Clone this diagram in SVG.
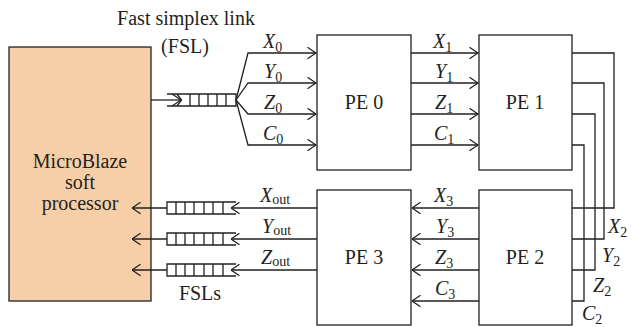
<svg xmlns="http://www.w3.org/2000/svg" width="632" height="327" viewBox="0 0 632 327" font-family="'Liberation Serif', 'DejaVu Serif', serif">
<style>
.box{fill:#ffffff;stroke:#231f20;stroke-width:1.3}
.mb{fill:#f6cfa9;stroke:#231f20;stroke-width:1.3}
.ln{fill:none;stroke:#231f20;stroke-width:1.3}
.ar{fill:none;stroke:#231f20;stroke-width:1.3;marker-end:url(#arr)}
text{font-family:'Liberation Serif','DejaVu Serif',serif;fill:#231f20}
.t{font-size:20px}
.pe{font-size:20px;text-anchor:middle}
.v{font-size:20px;font-style:italic}
.s{font-size:14px;font-style:normal}
</style>
<defs>
<marker id="arr" markerUnits="userSpaceOnUse" viewBox="0 0 10 13" refX="9.5" refY="6.5" markerWidth="10" markerHeight="13" orient="auto">
<path d="M1,0.8 L9.5,6.5 L1,12.2" fill="none" stroke="#231f20" stroke-width="1.3"/>
</marker>
</defs>

<g id="microblaze">
<rect class="mb" x="9" y="47" width="142" height="254"/>
<text class="pe" x="80" y="168">MicroBlaze</text>
<text class="pe" x="80" y="189">soft</text>
<text class="pe" x="80" y="210">processor</text>
</g>

<g id="fsl-label">
<text class="t" x="186" y="25" text-anchor="middle">Fast simplex link</text>
<text class="t" x="185" y="53" text-anchor="middle">(FSL)</text>
</g>

<g id="fsl-in">
<path class="ln" d="M167,94 H236 V106 H167 M177,94 L181.5,100 L177,106 M190,94 V106 M199,94 V106 M208,94 V106 M217,94 V106 M226,94 V106"/>
</g>

<g id="fsl-out">
<path class="ln" d="M236,202 H167 V214 H236 M176,202 V214 M185,202 V214 M194,202 V214 M204,202 V214 M213,202 V214 M223,202 V214"/>
<path class="ln" d="M236,233 H167 V245 H236 M176,233 V245 M185,233 V245 M194,233 V245 M204,233 V245 M213,233 V245 M223,233 V245"/>
<path class="ln" d="M236,264 H167 V276 H236 M176,264 V276 M185,264 V276 M194,264 V276 M204,264 V276 M213,264 V276 M223,264 V276"/>
<text class="t" x="200" y="300" text-anchor="middle">FSLs</text>
</g>

<g id="pe0">
<rect class="box" x="317" y="35" width="94" height="135"/>
<text class="pe" x="364" y="109">PE 0</text>
</g>
<g id="pe1">
<rect class="box" x="479" y="35" width="93" height="135"/>
<text class="pe" x="525" y="109">PE 1</text>
</g>
<g id="pe3">
<rect class="box" x="317" y="190" width="94" height="135"/>
<text class="pe" x="364" y="264">PE 3</text>
</g>
<g id="pe2">
<rect class="box" x="479" y="190" width="93" height="135"/>
<text class="pe" x="525" y="264">PE 2</text>
</g>

<g id="connectors">
<path class="ar" d="M151,100 H181"/>
<path class="ar" d="M236,100 L248,53 H316"/>
<path class="ar" d="M236,100 L248,83 H316"/>
<path class="ar" d="M236,100 L248,114 H316"/>
<path class="ar" d="M236,100 L248,145 H316"/>
<path class="ar" d="M411,53 H478"/>
<path class="ar" d="M411,83 H478"/>
<path class="ar" d="M411,114 H478"/>
<path class="ar" d="M411,145 H478"/>
<path class="ln" d="M572,53 H614 V208 H572"/>
<path class="ln" d="M572,83 H604 V239 H572"/>
<path class="ln" d="M572,114 H595 V270 H572"/>
<path class="ln" d="M572,145 H584 V301 H572"/>
<path class="ar" d="M479,208 H412"/>
<path class="ar" d="M479,239 H412"/>
<path class="ar" d="M479,270 H412"/>
<path class="ar" d="M479,301 H412"/>
<path class="ar" d="M317,208 H231"/>
<path class="ar" d="M317,239 H231"/>
<path class="ar" d="M317,270 H231"/>
<path class="ar" d="M167,208 H132"/>
<path class="ar" d="M167,239 H132"/>
<path class="ar" d="M167,270 H132"/>
</g>

<g id="labels">
<text class="v" x="263" y="48">X<tspan class="s" dy="4">0</tspan></text>
<text class="v" x="264" y="78">Y<tspan class="s" dy="4">0</tspan></text>
<text class="v" x="264" y="109">Z<tspan class="s" dy="4">0</tspan></text>
<text class="v" x="263" y="140">C<tspan class="s" dy="4">0</tspan></text>
<text class="v" x="433" y="48">X<tspan class="s" dy="4">1</tspan></text>
<text class="v" x="435" y="78">Y<tspan class="s" dy="4">1</tspan></text>
<text class="v" x="435" y="109">Z<tspan class="s" dy="4">1</tspan></text>
<text class="v" x="434" y="140">C<tspan class="s" dy="4">1</tspan></text>
<text class="v" x="608" y="233">X<tspan class="s" dy="4">2</tspan></text>
<text class="v" x="602" y="262">Y<tspan class="s" dy="4">2</tspan></text>
<text class="v" x="593" y="292">Z<tspan class="s" dy="4">2</tspan></text>
<text class="v" x="582" y="320">C<tspan class="s" dy="4">2</tspan></text>
<text class="v" x="434" y="202">X<tspan class="s" dy="4">3</tspan></text>
<text class="v" x="436" y="233">Y<tspan class="s" dy="4">3</tspan></text>
<text class="v" x="435" y="264">Z<tspan class="s" dy="4">3</tspan></text>
<text class="v" x="435" y="295">C<tspan class="s" dy="4">3</tspan></text>
<text class="v" x="260" y="202">X<tspan class="s" dy="2">out</tspan></text>
<text class="v" x="262" y="233">Y<tspan class="s" dy="2">out</tspan></text>
<text class="v" x="261" y="264">Z<tspan class="s" dy="2">out</tspan></text>
</g>
</svg>
